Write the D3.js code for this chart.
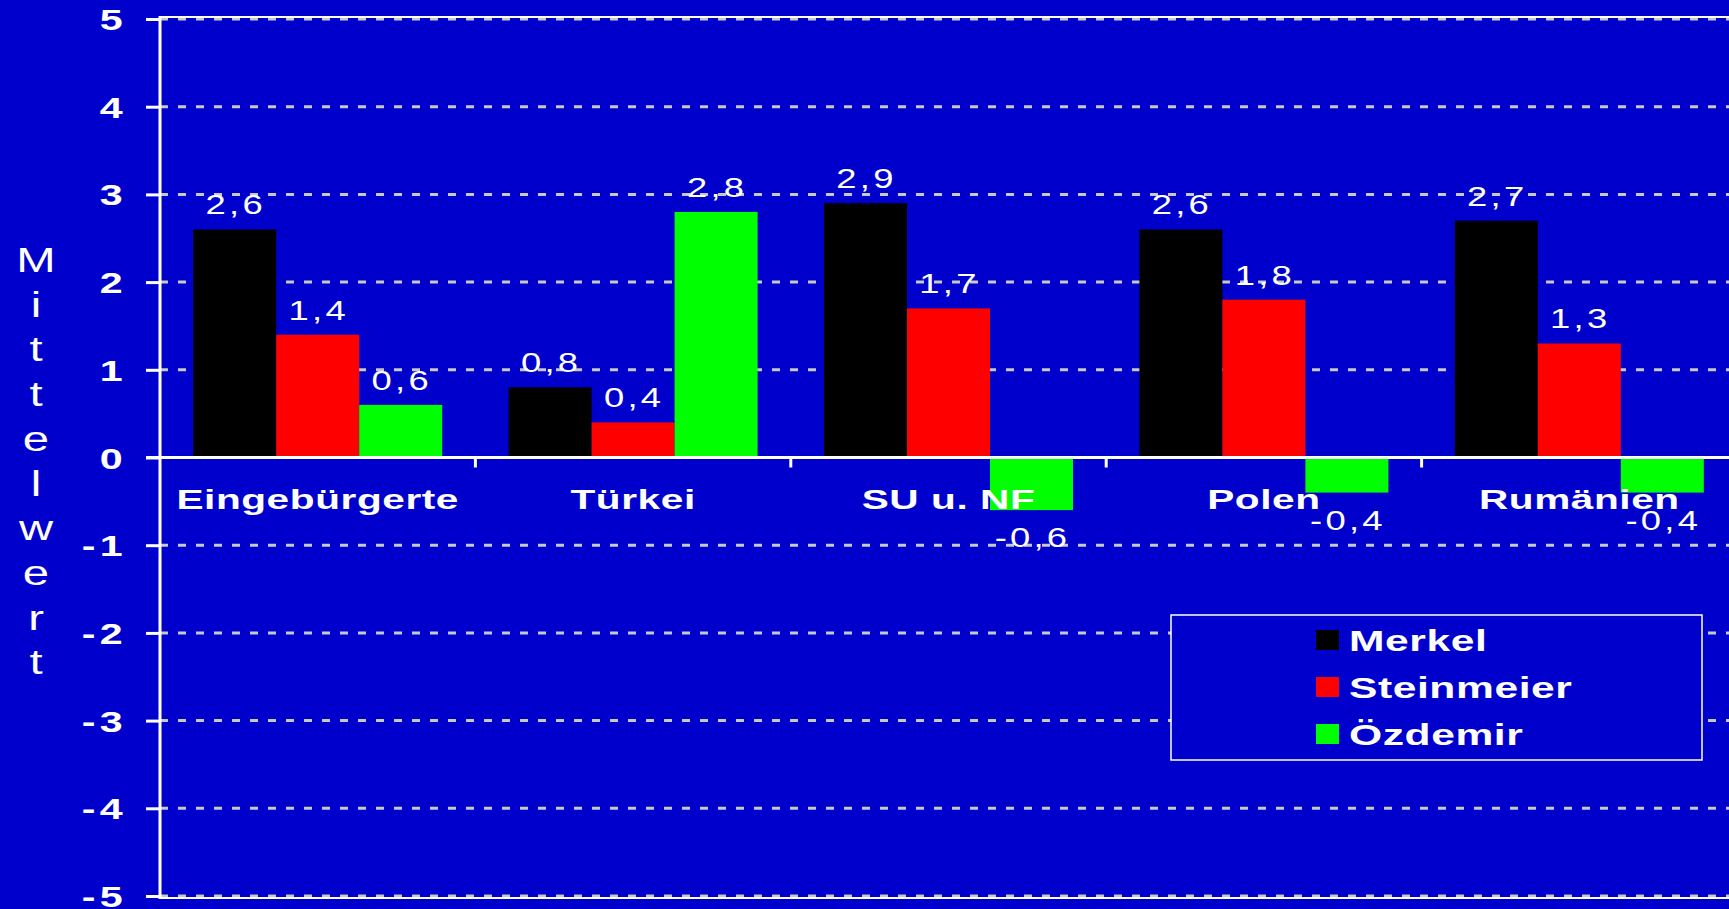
<!DOCTYPE html>
<html><head><meta charset="utf-8">
<script src="https://cdn.jsdelivr.net/npm/d3@7"></script>
<style>
html,body{margin:0;padding:0;background:#0000cc;overflow:hidden;}
svg{display:block;}
</style></head>
<body>
<svg id="chart" width="1729" height="909"></svg>
<script>
const categories = ["Eingebürgerte", "Türkei", "SU u. NF", "Polen", "Rumänien"];
const seriesNames = ["Merkel", "Steinmeier", "Özdemir"];
const merkel = [2.6, 0.8, 2.9, 2.6, 2.7];
const steinmeier = [1.4, 0.4, 1.7, 1.8, 1.3];
const oezdemir = [0.6, 2.8, -0.6, -0.4, -0.4];
const colors = ["#000000", "#ff0000", "#00ff00"];
const yTicks = [5, 4, 3, 2, 1, 0, -1, -2, -3, -4, -5];
const yTitle = "Mittelwert";

const seriesValues = [merkel, steinmeier, oezdemir];
const svg = d3.select("#chart");
const W = 1729, H = 909;
const FONT = "'Liberation Sans', Arial, Helvetica, sans-serif";
svg.append("rect").attr("width", W).attr("height", H).attr("fill", "#0000cc");

const mLeft = 160, mRight = 1737, mTop = 19, mBottom = 896;
const x0 = d3.scaleBand().domain(categories).range([mLeft, mRight]).paddingInner(0).paddingOuter(0);
const x1 = d3.scaleBand().domain(seriesNames).range([0, x0.bandwidth()]).paddingInner(0).paddingOuter(0.4);
const y = d3.scaleLinear().domain([-5, 5]).range([mBottom, mTop]);

// stretched text helper
function stretched(sel, sx) {
  return sel.attr("transform", d => `translate(${d.px},${d.py}) scale(${sx},1)`);
}

// gridlines
svg.append("g").selectAll("line").data(yTicks.filter(t => t !== 0)).join("line")
  .attr("x1", mLeft).attr("x2", W).attr("y1", d => y(d)).attr("y2", d => y(d))
  .attr("stroke", "#c8c8c8").attr("stroke-width", 3).attr("stroke-dasharray", "8,10");
// top and bottom solid lines
svg.append("g").selectAll("line").data([5, -5]).join("line")
  .attr("x1", mLeft).attr("x2", W).attr("y1", d => y(d) + (d > 0 ? -2 : 2)).attr("y2", d => y(d) + (d > 0 ? -2 : 2))
  .attr("stroke", "#ffffff").attr("stroke-width", 2);

// data rows
const rows = [];
categories.forEach((c, i) => seriesNames.forEach((s, j) => rows.push({c, s, j, v: seriesValues[j][i]})));

// bars
svg.append("g").selectAll("rect").data(rows).join("rect")
  .attr("x", d => x0(d.c) + x1(d.s))
  .attr("width", x1.bandwidth())
  .attr("y", d => y(Math.max(0, d.v)))
  .attr("height", d => Math.abs(y(d.v) - y(0)))
  .attr("fill", d => colors[d.j]);

// y axis
const yAxis = d3.axisLeft(y).tickValues(yTicks).tickSize(14)
  .tickFormat(d => d < 0 ? "-" + Math.abs(d) : String(d));
const gy = svg.append("g").attr("transform", `translate(${mLeft},0)`).call(yAxis);
gy.select(".domain").remove();
gy.selectAll(".tick line").attr("stroke", "#fff").attr("stroke-width", 3);
gy.selectAll(".tick text").attr("fill", "#fff").attr("x", null).attr("dy", null)
  .attr("transform", "translate(-33,10.5) scale(1.42,1)")
  .attr("text-anchor", "end")
  .style("font-family", FONT).style("font-weight", "bold")
  .style("font-size", "29px").style("letter-spacing", "3px");
svg.append("line").attr("x1", mLeft).attr("x2", mLeft).attr("y1", mTop - 3).attr("y2", mBottom + 3)
  .attr("stroke", "#fff").attr("stroke-width", 3);

// zero line with category ticks
svg.append("line").attr("x1", mLeft - 14).attr("x2", W).attr("y1", y(0)).attr("y2", y(0))
  .attr("stroke", "#fff").attr("stroke-width", 3);
svg.append("g").selectAll("line").data(categories.slice(1)).join("line")
  .attr("x1", d => x0(d)).attr("x2", d => x0(d)).attr("y1", y(0)).attr("y2", y(0) + 10)
  .attr("stroke", "#fff").attr("stroke-width", 3);

// category labels
stretched(svg.append("g").selectAll("text")
  .data(categories.map(c => ({t: c, px: x0(c) + x0.bandwidth() / 2, py: y(0) + 51})))
  .join("text"), 1.45)
  .attr("text-anchor", "middle").attr("fill", "#fff")
  .style("font-family", FONT).style("font-weight", "bold")
  .style("font-size", "28px").style("letter-spacing", "0.4px")
  .text(d => d.t);

// value labels
const fmt = v => String(v).replace(".", ",");
stretched(svg.append("g").selectAll("text")
  .data(rows.map(d => ({t: fmt(d.v),
    px: x0(d.c) + x1(d.s) + x1.bandwidth() / 2 + 1,
    py: d.v >= 0 ? y(d.v) - 15 : y(d.v) + 37})))
  .join("text"), 1.3)
  .attr("text-anchor", "middle").attr("fill", "#fff")
  .style("font-family", FONT)
  .style("font-size", "28px").style("letter-spacing", "2.5px")
  .text(d => d.t);

// y title, stacked letters
stretched(svg.append("g").selectAll("text")
  .data(yTitle.split("").map((ch, i) => ({t: ch, px: 36, py: 272 + i * 44.7})))
  .join("text"), 1.35)
  .attr("text-anchor", "middle").attr("fill", "#fff")
  .style("font-family", FONT)
  .style("font-size", "35px")
  .text(d => d.t);

// legend
const lg = svg.append("g");
lg.append("rect").attr("x", 1171).attr("y", 615).attr("width", 531).attr("height", 145)
  .attr("fill", "#0000cc").attr("stroke", "#fff").attr("stroke-width", 1.5);
const ly = d3.scalePoint().domain(seriesNames).range([640, 734]);
lg.selectAll("rect.sw").data(seriesNames).join("rect").attr("class", "sw")
  .attr("x", 1316).attr("y", d => ly(d) - 10).attr("width", 23).attr("height", 20)
  .attr("fill", (d, i) => colors[i]);
stretched(lg.selectAll("text")
  .data(seriesNames.map(s => ({t: s, px: 1349, py: ly(s) + 11})))
  .join("text"), 1.42)
  .attr("fill", "#fff")
  .style("font-family", FONT).style("font-weight", "bold")
  .style("font-size", "30px").style("letter-spacing", "0.4px")
  .text(d => d.t);
</script>
</body></html>
